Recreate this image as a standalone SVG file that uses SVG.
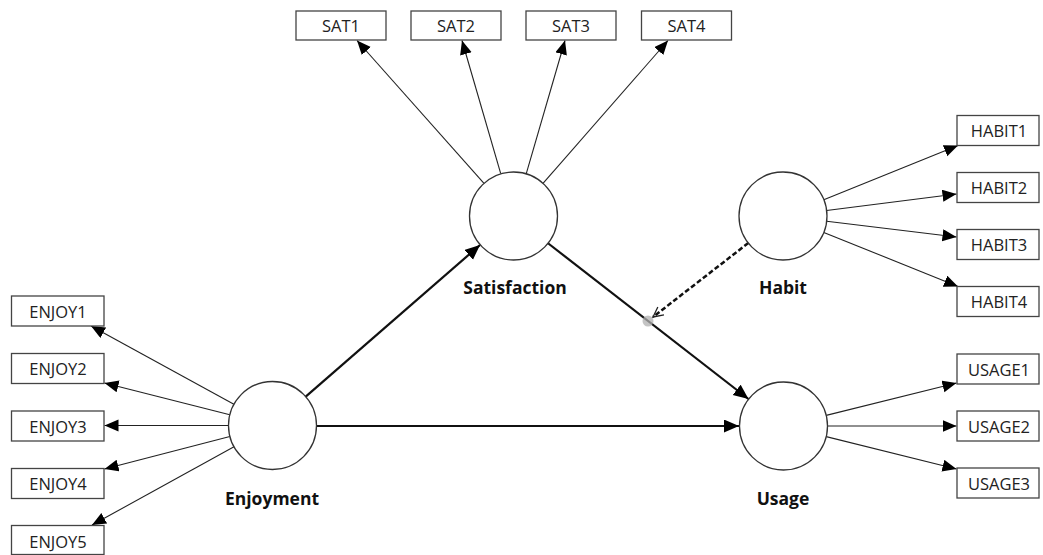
<svg xmlns="http://www.w3.org/2000/svg" width="1043" height="555" viewBox="0 0 1043 555">
  <style>
    .ind rect { fill: #ffffff; stroke: #444444; stroke-width: 1.3; }
    .ind text { font-family: "Open Sans", "Noto Sans", "Liberation Sans", sans-serif; font-size: 16.5px; fill: #222222; text-anchor: middle; dominant-baseline: central; }
    .lv circle { fill: #ffffff; stroke: #333333; stroke-width: 1.3; }
    .lv text { font-family: "Open Sans", "Noto Sans", "Liberation Sans", sans-serif; font-size: 17.5px; font-weight: bold; fill: #111111; text-anchor: middle; }
    .load { stroke: #222222; stroke-width: 1.1; fill: none; marker-end: url(#tri); }
    .path { stroke: #111111; stroke-width: 2.2; fill: none; marker-end: url(#triBig); }
    .mod { stroke: #111111; stroke-width: 2.5; fill: none; stroke-dasharray: 5 2.5; marker-end: url(#openArrow); }
  </style>
  <defs>
    <marker id="tri" markerUnits="userSpaceOnUse" markerWidth="15" markerHeight="13" refX="14" refY="6" orient="auto">
      <path d="M0,0 L14,6 L0,12 Z" fill="#000000"/>
    </marker>
    <marker id="triBig" markerUnits="userSpaceOnUse" markerWidth="16" markerHeight="14" refX="15" refY="6.5" orient="auto">
      <path d="M0,0 L15,6.5 L0,13 Z" fill="#000000"/>
    </marker>
    <marker id="openArrow" markerUnits="userSpaceOnUse" markerWidth="14" markerHeight="14" refX="11" refY="6" orient="auto">
      <path d="M1,1 L11,6 L1,11" fill="none" stroke="#222222" stroke-width="1.3"/>
    </marker>
  </defs>

  <!-- connectors: loadings, structural paths, moderating effect -->
  <g id="connectors">
    <!-- Satisfaction indicators -->
    <line class="load" x1="484" y1="183.4" x2="357" y2="40.5"/>
    <line class="load" x1="500.8" y1="173.9" x2="462" y2="40.5"/>
    <line class="load" x1="526.2" y1="173.9" x2="565" y2="40.5"/>
    <line class="load" x1="543" y1="183.4" x2="668" y2="40.5"/>
    <!-- Enjoyment indicators -->
    <line class="load" x1="233.9" y1="404.3" x2="91" y2="326"/>
    <line class="load" x1="229.8" y1="414.7" x2="104.5" y2="383"/>
    <line class="load" x1="228.5" y1="425.5" x2="104.5" y2="425.5"/>
    <line class="load" x1="229.9" y1="436.5" x2="104.5" y2="469"/>
    <line class="load" x1="234" y1="446.8" x2="92" y2="525"/>
    <!-- Habit indicators -->
    <line class="load" x1="823.8" y1="199.7" x2="958" y2="145.5"/>
    <line class="load" x1="826.6" y1="210.5" x2="956.5" y2="194"/>
    <line class="load" x1="826.7" y1="221.3" x2="956.5" y2="237"/>
    <line class="load" x1="823.8" y1="232.4" x2="958" y2="286.5"/>
    <!-- Usage indicators -->
    <line class="load" x1="826.2" y1="415.4" x2="956.5" y2="383"/>
    <line class="load" x1="827.5" y1="426" x2="956.5" y2="426"/>
    <line class="load" x1="826.2" y1="436.6" x2="956.5" y2="469"/>
    <!-- structural paths -->
    <line class="path" x1="305.7" y1="396.6" x2="480" y2="245"/>
    <line class="path" x1="316.5" y1="426" x2="739" y2="426"/>
    <line class="path" x1="547.7" y1="243" x2="748.5" y2="399"/>
    <!-- moderating effect of Habit -->
    <circle cx="648" cy="321" r="5.5" fill="#b0b0b0" fill-opacity="0.75"/>
    <line class="mod" x1="748.3" y1="243" x2="653" y2="317"/>
  </g>

  <!-- latent variables -->
  <g id="satisfaction" class="lv">
    <circle cx="513.5" cy="216" r="44"/>
    <text x="515" y="294">Satisfaction</text>
  </g>
  <g id="enjoyment" class="lv">
    <circle cx="272.5" cy="425.5" r="44"/>
    <text x="272" y="505">Enjoyment</text>
  </g>
  <g id="habit" class="lv">
    <circle cx="783" cy="216" r="44"/>
    <text x="783" y="294">Habit</text>
  </g>
  <g id="usage" class="lv">
    <circle cx="783.5" cy="426" r="44"/>
    <text x="783" y="505">Usage</text>
  </g>

  <!-- Satisfaction indicators -->
  <g id="sat1" class="ind"><rect x="296" y="11" width="90" height="29"/><text x="341" y="25.5">SAT1</text></g>
  <g id="sat2" class="ind"><rect x="411" y="11" width="90" height="29"/><text x="456" y="25.5">SAT2</text></g>
  <g id="sat3" class="ind"><rect x="526" y="11" width="90" height="29"/><text x="571" y="25.5">SAT3</text></g>
  <g id="sat4" class="ind"><rect x="641.5" y="11" width="90" height="29"/><text x="686.5" y="25.5">SAT4</text></g>

  <!-- Enjoyment indicators -->
  <g id="enjoy1" class="ind"><rect x="11.5" y="296" width="92.5" height="30"/><text x="58" y="311">ENJOY1</text></g>
  <g id="enjoy2" class="ind"><rect x="11.5" y="353.5" width="92.5" height="30"/><text x="58" y="368.5">ENJOY2</text></g>
  <g id="enjoy3" class="ind"><rect x="11.5" y="411" width="92.5" height="30"/><text x="58" y="426">ENJOY3</text></g>
  <g id="enjoy4" class="ind"><rect x="11.5" y="468.5" width="92.5" height="30"/><text x="58" y="483.5">ENJOY4</text></g>
  <g id="enjoy5" class="ind"><rect x="11.5" y="525.5" width="92.5" height="29"/><text x="58" y="541">ENJOY5</text></g>

  <!-- Habit indicators -->
  <g id="habit1" class="ind"><rect x="957" y="115.5" width="82" height="30"/><text x="999" y="130.5">HABIT1</text></g>
  <g id="habit2" class="ind"><rect x="957" y="172.5" width="82" height="30"/><text x="999" y="187.5">HABIT2</text></g>
  <g id="habit3" class="ind"><rect x="957" y="229.5" width="82" height="30"/><text x="999" y="244.5">HABIT3</text></g>
  <g id="habit4" class="ind"><rect x="957" y="286.5" width="82" height="30"/><text x="999" y="301.5">HABIT4</text></g>

  <!-- Usage indicators -->
  <g id="usage1" class="ind"><rect x="957" y="354" width="82" height="30"/><text x="999" y="369">USAGE1</text></g>
  <g id="usage2" class="ind"><rect x="957" y="411" width="82" height="30"/><text x="999" y="426">USAGE2</text></g>
  <g id="usage3" class="ind"><rect x="957" y="468" width="82" height="30"/><text x="999" y="483">USAGE3</text></g>
</svg>
